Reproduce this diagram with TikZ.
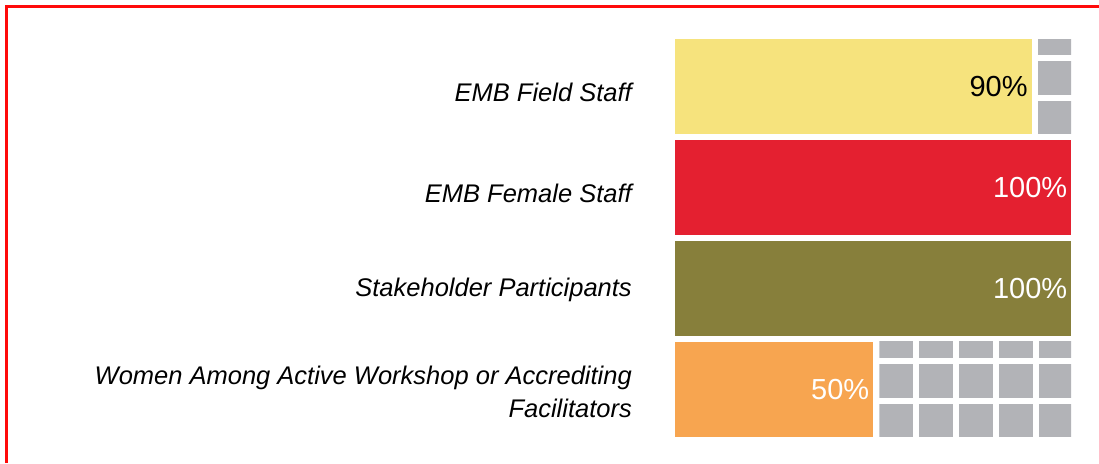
\documentclass[tikz,border=0pt]{standalone}
\usepackage{fontspec}
\setmainfont{Liberation Sans}
\usetikzlibrary{positioning}

\definecolor{barYellow}{HTML}{F6E37D}
\definecolor{barRed}{HTML}{E42030}
\definecolor{barOlive}{HTML}{877F3B}
\definecolor{barOrange}{HTML}{F7A550}
\definecolor{cellGray}{HTML}{B2B3B7}
\definecolor{frameRed}{HTML}{FF0A0A}

\begin{document}
\begin{tikzpicture}[
        x=1pt, y=-1pt,
        bar/.style={rectangle, inner sep=0pt, anchor=north west, minimum height=95pt},
        pct label/.style={font=\fontsize{29}{32}\selectfont, anchor=east, inner sep=0pt},
        row label/.style={font=\fontsize{25.5}{33}\selectfont\itshape, align=right, anchor=base east, inner sep=0pt},
        rest cell/.style={fill=cellGray}
      ]

      \useasboundingbox (0,0) rectangle (1099,463);
      \draw [frameRed, line width=2.6pt] (6.5,463) -- (6.5,6.5) -- (1099,6.5);

      \foreach \i/\p/\col/\tcol/\dy/\lab in {
          0/90/barYellow/black/-15/{EMB Field Staff},
          1/100/barRed/white/-15/{EMB Female Staff},
          2/100/barOlive/white/-8/{Stakeholder Participants},
          3/50/barOrange/white/-28.5/{Women Among Active Workshop or Accrediting\\Facilitators}} {
          \pgfmathsetmacro{\ytop}{39 + \i*100.9}
          \pgfmathsetmacro{\w}{\p*3.96}

          \node[bar, fill=\col, minimum width=\w pt] (bar\i) at (675,\ytop) {};
          \node[pct label, text=\tcol] (pct\i) at ([xshift=-4pt]bar\i.east) {\p\%};
          \node[row label] (lab\i) at ([xshift=-43pt, yshift=\dy pt]bar\i.west) {\lab};

          \ifnum \p < 100
            \begin{scope}
              \clip ([xshift=6pt]bar\i.north east) rectangle (1071,\ytop+95);
              \foreach \c in {0,...,4}
                \foreach \r in {0,...,2}
                  \fill[rest cell] ([xshift=6pt+\c*40pt, yshift=\r*39.5pt]bar\i.south east) rectangle +(34,-33.5);
            \end{scope}
          \fi
        }

    \end{tikzpicture}
\end{document}
